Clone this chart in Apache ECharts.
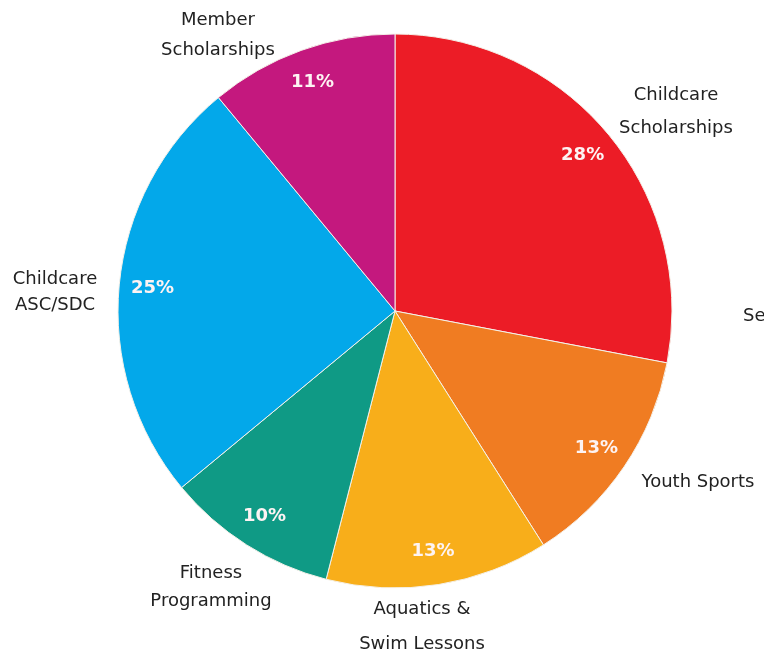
<!DOCTYPE html>
<html>
<head>
<meta charset="utf-8">
<script src="https://cdn.jsdelivr.net/npm/echarts@6/dist/echarts.min.js"></script>
<style>html,body{margin:0;padding:0;background:#fff;}#c{width:764px;height:658px;}</style>
</head>
<body>
<div id="c"></div>
<script>
const categories = ['Childcare\nScholarships', 'Youth Sports', 'Aquatics &\nSwim Lessons', 'Fitness\nProgramming', 'Childcare\nASC/SDC', 'Member\nScholarships'];
const values = [28, 13, 13, 10, 25, 11];
const colors = ['#EC1C26', '#F07C22', '#F8AE1A', '#0F9A85', '#03A8EA', '#C4187E'];

// label anchor positions (layout only)
const namePos = [[676, 112], [698, 482], [422, 627], [211, 587], [55, 292], [218, 35]];
const nameLH = [33, 20, 35, 28, 26, 30];

const chart = echarts.init(document.getElementById('c'));
const mainData = categories.map((n, i) => ({
  name: n, value: values[i],
  itemStyle: { color: colors[i] },
  label: { lineHeight: nameLH[i] }
}));
const ringData = categories.map((n, i) => ({ name: n, value: values[i] }));

chart.setOption({
  animation: false,
  series: [
    {
      type: 'pie',
      center: [395, 311],
      radius: [0, 277],
      startAngle: 90,
      clockwise: true,
      silent: true,
      data: mainData,
      itemStyle: { borderColor: '#f4f0e8', borderWidth: 1 },
      label: {
        show: true, position: 'outside', formatter: '{b}', overflow: 'none',
        fontFamily: 'DejaVu Sans', fontSize: 18, color: '#222', align: 'center'
      },
      labelLine: { show: false },
      labelLayout: function (p) {
        const pos = namePos[p.dataIndex];
        return { x: pos[0], y: pos[1], align: 'center', verticalAlign: 'middle' };
      }
    },
    {
      type: 'pie',
      center: [395, 311],
      radius: [204, 277],
      startAngle: 90,
      clockwise: true,
      silent: true,
      data: ringData,
      itemStyle: { color: 'rgba(0,0,0,0)' },
      label: {
        show: true, position: 'inside', formatter: '{d}%',
        fontFamily: 'DejaVu Sans', fontWeight: 'bold', fontSize: 18, color: '#fdf3f3'
      },
      labelLine: { show: false }
    }
  ],
  graphic: [{
    type: 'text', left: 743, top: 307,
    style: { text: 'Se', font: '18px "DejaVu Sans"', fill: '#222' }
  }]
});
</script>
</body>
</html>
